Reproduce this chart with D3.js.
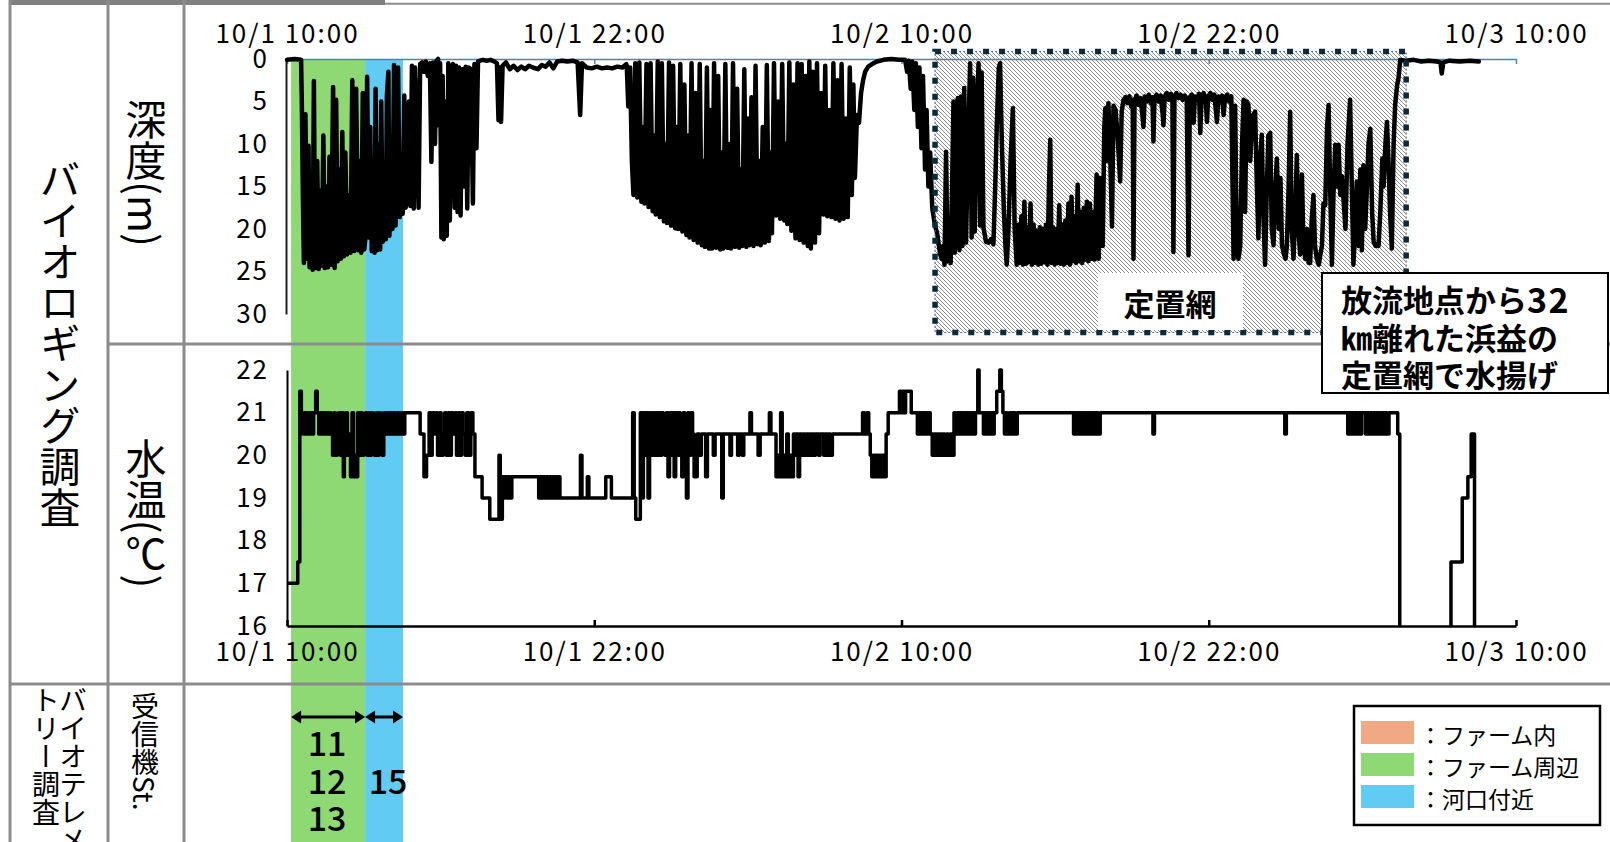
<!DOCTYPE html>
<html>
<head>
<meta charset="utf-8">
<script src="https://cdn.jsdelivr.net/npm/d3@7"></script>
<style>
  html, body { margin: 0; padding: 0; background: #fff; }
  svg { display: block; }
  text { font-family: "Noto Sans CJK JP", "Noto Sans", sans-serif; fill: #000; }
</style>
</head>
<body>
<svg id="chart" width="1610" height="842"></svg>
<script>
// ---- time axis (hours after 10/1 10:00) ----
const tickHours  = [0, 12, 24, 36, 48];
const tickLabels = ["10/1 10:00", "10/1 22:00", "10/2 10:00", "10/2 22:00", "10/3 10:00"];
const depthTicks = [0, 5, 10, 15, 20, 25, 30];
const tempTicks  = [16, 17, 18, 19, 20, 21, 22];

// ---- receiver zones ----
const zoneNames  = ["ファーム内", "ファーム周辺", "河口付近"];
const zoneColors = ["#F1A983", "#8ED973", "#61CBF3"];
const zoneStart  = [0.16, 3.05];
const zoneEnd    = [3.05, 4.53];
const zoneIndex  = [1, 2];
const zoneStations = [["11", "12", "13"], ["15"]];

// ---- set-net period ----
const netStart = 25.31;
const netEnd   = 43.71;
const netLabel = "定置網";
const noteLines = [["放流地点から", "32"], ["㎞離れた浜益の", ""], ["定置網で水揚げ", ""]];

// ---- depth record [hour, metres] ----
const depthFarm = [[0.00,0.1],[0.30,0.0],[0.55,0.1],[0.58,5.4],[0.62,16.0],[0.66,24.0],[0.72,6.5],[0.78,23.5],[0.84,10.2],[0.88,24.5],[0.95,14.0],[1.00,24.8],[1.05,2.6],[1.10,24.6],[1.18,12.0],[1.24,24.7],[1.30,15.5],[1.36,24.3],[1.42,9.0],[1.47,24.6],[1.53,15.0],[1.60,24.5],[1.66,11.5],[1.72,24.2],[1.80,3.3],[1.86,24.6],[1.92,4.8],[1.98,23.8],[2.05,13.0],[2.10,23.5],[2.16,8.6],[2.22,23.2],[2.28,11.0],[2.35,23.0],[2.42,16.0],[2.48,22.8],[2.55,2.5],[2.62,22.6],[2.70,3.5],[2.78,22.5],[2.84,12.0],[2.90,22.8],[2.96,4.0],[3.02,22.4]];
const depthEstuary = [[3.08,20.5],[3.13,2.1],[3.19,21.0],[3.25,8.0],[3.31,22.6],[3.37,12.0],[3.42,22.8],[3.46,3.5],[3.52,22.5],[3.58,10.0],[3.64,22.4],[3.68,5.0],[3.74,21.5],[3.80,14.0],[3.86,21.2],[3.90,4.4],[3.96,1.5],[4.00,20.8],[4.06,9.0],[4.12,20.0],[4.18,0.7],[4.24,19.6],[4.29,6.0],[4.34,1.0],[4.40,18.6],[4.46,12.0],[4.52,18.2],[4.58,4.3],[4.63,17.5]];
const depthOffshore1 = [[4.70,16.5],[4.76,5.0],[4.82,17.3],[4.88,0.8],[4.95,17.6],[5.00,1.0],[5.08,10.0],[5.14,17.5],[5.20,0.6],[5.28,0.4],[5.35,1.5],[5.42,0.3],[5.50,2.0],[5.58,0.5],[5.64,12.1],[5.70,0.4],[5.78,10.0],[5.84,0.2],[5.90,0.0],[5.94,7.8],[5.98,0.5],[6.03,21.0],[6.08,2.0],[6.12,21.2],[6.18,5.0],[6.24,20.8],[6.30,0.5],[6.36,19.0],[6.42,1.0],[6.48,0.6],[6.55,17.5],[6.60,0.8],[6.66,18.0],[6.72,1.0],[6.78,18.4],[6.85,1.2],[6.92,15.0],[6.98,0.9],[7.04,17.6],[7.10,1.0],[7.18,1.2],[7.26,17.0],[7.32,0.6],[7.40,10.5],[7.46,0.3],[7.54,0.2]];
const depthSurface1 = [[7.65,0.1],[7.80,0.2],[7.95,0.1],[8.10,0.3],[8.20,0.5],[8.26,7.2],[8.30,1.0],[8.36,7.4],[8.42,0.8],[8.55,0.4],[8.70,1.2],[8.85,0.8],[9.00,1.3],[9.15,0.9],[9.30,1.2],[9.45,0.8],[9.60,1.0],[9.80,1.2],[9.95,0.7],[10.10,0.9],[10.25,0.4],[10.40,1.1],[10.55,0.3],[10.75,0.2],[10.95,0.3],[11.15,0.2],[11.35,0.4],[11.45,6.6],[11.52,0.5],[11.70,1.0],[11.90,1.1],[12.10,0.9],[12.30,1.1],[12.50,1.0],[12.70,1.1],[12.90,0.9],[13.10,1.0],[13.25,0.6]];
const depthNight = [[13.27,0.8],[13.33,5.6],[13.40,1.0],[13.47,12.0],[13.53,16.0],[13.60,0.5],[13.68,16.3],[13.76,0.4],[13.84,16.8],[13.90,8.0],[13.96,17.0],[14.04,0.6],[14.12,17.4],[14.20,0.5],[14.28,17.9],[14.34,9.0],[14.40,18.3],[14.48,0.3],[14.56,18.6],[14.64,0.5],[14.72,19.1],[14.78,10.0],[14.84,19.3],[14.92,0.4],[15.00,19.6],[15.08,0.8],[15.16,19.9],[15.22,8.0],[15.28,20.0],[15.36,0.6],[15.44,20.3],[15.52,3.0],[15.60,20.7],[15.66,9.0],[15.72,21.0],[15.80,0.5],[15.88,21.3],[15.96,4.0],[16.04,21.6],[16.12,0.6],[16.20,21.9],[16.26,12.0],[16.32,22.1],[16.40,1.0],[16.48,22.3],[16.54,6.0],[16.60,22.3],[16.68,0.5],[16.76,22.2],[16.84,2.0],[16.92,22.4],[16.98,11.0],[17.04,22.3],[17.12,0.6],[17.20,22.2],[17.28,10.0],[17.34,22.3],[17.42,0.5],[17.50,22.1],[17.58,3.5],[17.66,22.2],[17.72,13.0],[17.78,22.0],[17.86,1.2],[17.94,22.1],[18.00,7.0],[18.06,21.9],[18.14,4.5],[18.22,22.0],[18.30,0.8],[18.38,21.8],[18.44,12.0],[18.50,21.9],[18.58,8.0],[18.66,21.6],[18.74,0.7],[18.82,21.4],[18.88,11.0],[18.94,20.5],[19.02,0.5],[19.10,18.4],[19.18,5.0],[19.26,18.8],[19.34,0.6],[19.42,19.0],[19.48,10.0],[19.54,19.4],[19.62,0.4],[19.70,20.2],[19.78,3.0],[19.86,21.1],[19.94,0.5],[20.02,21.3],[20.10,0.6],[20.18,21.6],[20.26,2.0],[20.34,22.0],[20.40,0.3],[20.46,22.3],[20.54,1.5],[20.62,21.6],[20.70,0.5],[20.78,20.5],[20.86,4.0],[20.95,18.3],[21.02,0.8],[21.10,18.5],[21.18,6.0],[21.26,18.6],[21.34,0.5],[21.42,18.8],[21.50,2.5],[21.58,19.0],[21.66,0.6],[21.74,18.8],[21.82,7.0],[21.90,18.6],[21.98,1.0],[22.06,16.0],[22.12,3.0],[22.18,14.0],[22.26,6.6],[22.34,7.5],[22.42,4.0],[22.50,2.5],[22.58,1.5]];
const depthSurface2 = [[22.70,0.9],[22.85,0.6],[23.04,0.3],[23.30,0.1],[23.60,0.0],[23.90,0.1],[24.14,0.1],[24.22,1.5],[24.28,0.2],[24.36,3.5],[24.42,0.3],[24.50,6.0],[24.56,0.5],[24.64,8.0],[24.70,1.0],[24.78,10.5],[24.84,2.0],[24.92,13.0],[24.98,6.0],[25.05,15.0],[25.12,11.0],[25.20,17.5],[25.30,19.5],[25.39,20.5],[25.51,23.0]];
const depthSetNet = [[25.57,23.5],[25.62,22.0],[25.68,24.2],[25.74,10.9],[25.80,23.8],[25.86,22.5],[25.92,24.0],[25.98,14.0],[26.03,5.0],[26.08,22.8],[26.14,6.0],[26.20,4.6],[26.26,22.5],[26.32,4.4],[26.38,22.0],[26.45,3.4],[26.52,21.6],[26.60,10.0],[26.68,0.5],[26.74,21.0],[26.80,2.2],[26.86,20.3],[26.92,8.0],[27.01,0.5],[27.07,19.6],[27.13,1.6],[27.20,19.8],[27.30,21.5],[27.40,21.6],[27.50,21.2],[27.59,21.8],[27.66,15.0],[27.72,8.0],[27.80,1.0],[27.85,0.5],[27.92,10.0],[28.00,18.0],[28.06,22.0],[28.11,24.2],[28.18,20.0],[28.26,12.0],[28.35,5.8],[28.42,20.0],[28.50,24.2],
  [28.56,19.5],[28.62,24.0],[28.68,18.5],[28.74,24.2],[28.80,16.8],[28.86,24.1],[28.92,19.8],[28.98,23.9],[29.04,17.0],[29.10,24.2],[29.16,19.5],[29.22,24.0],[29.28,20.2],[29.34,24.2],[29.40,19.8],[29.46,24.1],[29.52,20.0],[29.58,23.9],[29.64,19.5],[29.70,24.2],[29.76,15.0],[29.81,9.5],[29.86,24.0],[29.92,19.8],[29.98,24.2],[30.04,20.0],[30.10,24.0],[30.16,17.2],[30.22,24.1],[30.28,19.5],[30.34,24.2],[30.40,19.0],[30.46,24.0],[30.52,17.0],[30.58,24.2],[30.64,16.2],[30.70,23.8],[30.76,18.5],[30.82,24.0],[30.88,14.8],[30.94,23.8],[31.00,18.0],[31.06,24.0],[31.12,17.5],[31.18,23.6],[31.24,16.8],[31.30,23.8],[31.36,17.0],[31.42,23.5],[31.48,18.0],[31.54,23.6],[31.62,13.6],[31.70,23.5],[31.78,14.0],[31.86,22.0],
  [31.92,8.0],[31.96,5.8],[32.02,12.0],[32.08,5.2],[32.14,10.0],[32.22,19.7],[32.28,5.5],[32.36,6.0],[32.44,9.0],[32.54,14.4],[32.60,6.2],[32.67,4.8],
  [32.75,4.5],[32.82,5.2],[32.90,4.4],[32.97,5.6],[33.03,4.8],[33.06,23.5],[33.10,5.0],[33.18,4.3],[33.26,5.4],[33.34,4.6],[33.42,7.0],[33.45,8.0],[33.50,4.4],[33.58,5.0],[33.66,4.2],[33.74,5.2],[33.80,4.5],[33.84,9.7],[33.88,4.6],[33.96,4.2],[34.04,5.0],[34.12,4.3],[34.20,6.5],[34.23,7.8],[34.28,4.4],[34.36,4.0],[34.44,4.8],[34.52,4.1],[34.58,4.6],[34.62,22.7],[34.66,4.5],[34.74,4.0],[34.82,4.6],[34.90,4.2],[34.98,4.8],[35.06,4.3],[35.14,4.7],[35.21,23.1],[35.26,4.5],[35.34,4.2],[35.41,7.5],[35.46,4.4],[35.54,4.8],[35.62,4.1],[35.67,8.7],[35.72,4.5],[35.80,4.0],[35.88,4.7],[35.93,7.4],[35.98,4.4],[36.06,4.0],[36.14,4.8],[36.22,4.2],[36.32,7.4],[36.38,4.4],[36.46,4.9],[36.52,4.3],[36.58,6.6],[36.64,4.5],[36.72,4.2],[36.80,5.0],[36.88,4.4],[36.97,23.5],[37.03,5.5],[37.10,22.7],
  [37.16,23.5],[37.23,22.0],[37.30,10.0],[37.36,4.8],[37.42,18.0],[37.48,5.0],[37.55,5.4],[37.62,12.0],[37.68,8.2],[37.74,6.5],[37.81,6.2],[37.88,15.0],[37.94,21.1],[38.00,12.0],[38.07,8.9],[38.13,18.0],[38.20,24.2],[38.27,15.0],[38.33,9.0],[38.40,8.7],[38.46,20.0],[38.53,21.9],[38.60,15.0],[38.66,11.7],[38.74,20.0],[38.80,14.0],[38.86,21.9],[38.94,23.0],[39.00,23.5],[39.05,22.0],[39.12,15.0],[39.18,6.2],[39.24,20.0],[39.31,23.5],[39.38,18.0],[39.44,11.3],[39.50,20.0],[39.57,23.0],[39.64,13.6],[39.70,22.0],[39.77,23.5],[39.84,20.0],[39.90,24.0],
  [39.96,24.0],[40.02,19.0],[40.09,16.0],[40.15,22.0],[40.22,23.5],[40.30,24.2],[40.36,23.0],[40.42,22.0],[40.48,17.0],[40.55,17.2],[40.62,8.0],[40.68,5.4],[40.74,15.0],[40.81,24.2],[40.87,16.0],[40.94,10.1],[41.00,15.0],[41.07,10.1],[41.14,16.0],[41.20,13.8],[41.26,16.4],[41.34,20.0],[41.42,10.0],[41.52,4.8],[41.58,14.0],[41.65,24.2],[41.72,20.0],[41.78,14.4],[41.85,22.0],[41.92,13.0],[41.98,22.5],[42.04,12.5],[42.11,20.0],[42.18,15.0],[42.24,10.0],[42.31,8.2],[42.38,18.0],[42.44,21.5],[42.52,22.0],[42.58,21.8],[42.63,22.0],[42.70,18.0],[42.78,11.7],[42.83,15.0],[42.90,10.0],[42.96,7.4],[43.02,12.0],[43.08,18.0],[43.15,22.3],[43.22,10.0],[43.28,5.4],[43.36,3.0],[43.41,2.3],[43.48,0.1]];
const depthLanded = [[43.70,0.2],[44.00,0.1],[44.30,0.3],[44.60,0.2],[44.90,0.3],[45.05,0.4],[45.10,1.7],[45.16,0.4],[45.40,0.2],[45.80,0.3],[46.20,0.2],[46.55,0.3]];

// ---- water temperature record [hour, °C] (logged in 0.5 °C steps) ----
const tempFarm = [[0.00,17.0],[0.42,17.5],[0.50,21.5],[0.56,21.0],[0.62,20.5],[0.68,21.0],[0.74,20.5],[0.80,21.0],[0.86,20.5],[0.92,21.0],[0.98,20.5],[1.04,21.0],[1.12,21.5],[1.18,21.0],[1.24,20.5],[1.30,21.0],[1.36,20.5],[1.42,21.0],[1.48,20.5],[1.54,21.0],[1.60,20.5],[1.66,21.0],[1.72,20.5],[1.78,20.0],[1.84,21.0],[1.90,20.0],[1.96,20.5],[2.02,21.0],[2.08,20.0],[2.14,21.0],[2.20,19.5],[2.24,20.0],[2.30,21.0],[2.36,20.0],[2.42,20.5],[2.48,19.5],[2.54,21.0],[2.60,19.5],[2.66,20.0],[2.72,19.5],[2.76,21.0],[2.82,20.0],[2.88,21.0],[2.94,20.0],[3.00,20.5]];
const tempEstuary = [[3.06,21.0],[3.12,20.0],[3.18,21.0],[3.24,20.0],[3.30,21.0],[3.36,20.5],[3.42,20.0],[3.48,21.0],[3.54,20.0],[3.60,21.0],[3.66,20.5],[3.72,20.0],[3.78,21.0],[3.84,20.5],[3.92,21.0],[3.98,20.5],[4.04,21.0],[4.10,20.5],[4.16,21.0],[4.24,20.5],[4.30,21.0],[4.38,20.5],[4.46,21.0],[4.54,20.5],[4.60,21.0]];
const tempOffshore = [[5.20,20.5],[5.35,19.5],[5.45,20.0],[5.55,21.0],[5.61,20.0],[5.67,21.0],[5.75,20.5],[5.82,21.0],[5.88,20.0],[5.96,21.0],[6.02,20.0],[6.10,20.5],[6.16,21.0],[6.22,20.0],[6.30,21.0],[6.36,20.0],[6.42,21.0],[6.48,20.5],[6.56,21.0],[6.62,20.0],[6.70,21.0],[6.76,20.0],[6.82,21.0],[6.88,20.5],[6.96,20.0],[7.02,21.0],[7.10,20.0],[7.18,21.0],[7.26,20.5],[7.34,19.5],[7.62,19.0],[7.92,18.5],[8.28,20.0],[8.33,18.5],[8.41,19.5],[8.47,19.0],[8.53,19.5],[8.59,19.0],[8.65,19.5],[8.71,19.0],[8.78,19.5],[9.83,19.0],[9.89,19.5],[9.95,19.0],[10.01,19.5],[10.07,19.0],[10.13,19.5],[10.19,19.0],[10.25,19.5],[10.31,19.0],[10.37,19.5],[10.43,19.0],[10.49,19.5],[10.55,19.0],[10.61,19.5],[10.66,19.0],[11.46,20.0],[11.52,19.0],[11.73,19.5],[11.79,19.0],[12.45,19.5],[12.67,19.0],
  [13.50,21.0],[13.56,19.0],[13.62,18.5],[13.80,21.0],[13.86,19.0],[13.92,21.0],[13.98,20.0],[14.04,21.0],[14.10,19.0],[14.16,21.0],[14.22,20.0],[14.28,21.0],[14.34,20.0],[14.40,21.0],[14.46,20.0],[14.52,21.0],[14.58,20.0],[14.64,21.0],[14.70,20.5],[14.76,20.0],[14.82,21.0],[14.88,19.5],[14.94,21.0],[15.00,20.0],[15.06,21.0],[15.12,19.5],[15.18,21.0],[15.24,20.0],[15.30,21.0],[15.36,20.0],[15.42,19.5],[15.48,21.0],[15.54,20.5],[15.60,19.0],[15.66,21.0],[15.72,20.0],[15.78,21.0],[15.84,20.5],[15.90,19.5],[16.02,20.5],[16.10,20.0],[16.18,20.5],[16.35,19.5],[16.42,20.5],[16.65,20.0],[16.72,20.5],[16.98,19.0],[17.04,20.5],[17.30,20.0],[17.36,20.5],[17.60,20.0],[17.66,20.5],[17.78,20.0],[17.84,20.5],[18.08,21.0],[18.14,20.5],[18.40,20.0],[18.48,20.5],[18.84,21.0],[18.90,20.5],[19.10,19.5],[19.16,20.0],[19.22,19.5],[19.28,21.0],[19.34,19.5],[19.40,20.0],[19.46,19.5],[19.52,20.5],[19.58,19.5],[19.64,20.0],[19.70,19.5],[19.78,20.5],[19.84,20.0],[19.90,20.5],[19.96,19.5],[20.02,20.5],[20.10,20.0],[20.16,20.5],[20.22,20.0],[20.28,20.5],[20.34,20.0],[20.40,20.5],[20.46,20.0],[20.52,20.5],[20.58,20.0],[20.64,20.5],[20.76,20.0],[20.82,20.5],[20.96,20.0],[21.02,20.5],[21.10,20.0],[21.16,20.5],[21.22,20.0],[21.30,20.5],
  [22.48,21.0],[22.56,20.5],[22.64,21.0],[22.72,20.5],[22.78,20.0],[22.84,19.5],[22.90,20.0],[22.96,19.5],[23.02,20.0],[23.08,19.5],[23.14,20.0],[23.20,19.5],[23.26,20.0],[23.32,19.5],[23.40,20.5],[23.48,21.0],[23.92,21.5],[23.98,21.0],[24.04,21.5],[24.10,21.0],[24.16,21.5],[24.38,21.0],[24.62,20.5],[24.68,21.0],[24.74,20.5],[24.80,21.0],[24.86,20.5],[24.92,21.0],[24.98,20.5],[25.04,21.0],[25.12,20.5]];
const tempSetNet = [[25.20,20.0],[25.26,20.5],[25.32,20.0],[25.38,20.5],[25.44,20.0],[25.50,20.5],[25.56,20.0],[25.62,20.5],[25.68,20.0],[25.76,20.5],[25.82,20.0],[25.90,20.5],[25.98,20.0],[26.05,21.0],[26.11,20.5],[26.17,21.0],[26.23,20.5],[26.29,21.0],[26.35,20.5],[26.41,21.0],[26.47,20.5],[26.53,21.0],[26.59,20.5],[26.65,21.0],[26.71,20.5],[26.77,21.0],[26.83,20.5],[26.89,21.0],[26.98,22.0],[27.03,21.0],[27.20,20.5],[27.26,21.0],[27.32,20.5],[27.38,21.0],[27.44,20.5],[27.50,21.0],[27.56,20.5],[27.62,21.0],[27.72,21.5],[27.84,22.0],[27.90,21.5],[27.96,21.0],[28.02,20.5],[28.08,21.0],[28.14,20.5],[28.22,21.0],[28.30,20.5],[28.36,21.0],[28.44,20.5],[28.52,21.0],
  [30.72,20.5],[30.78,21.0],[30.84,20.5],[30.90,21.0],[30.96,20.5],[31.02,21.0],[31.08,20.5],[31.14,21.0],[31.20,20.5],[31.26,21.0],[31.32,20.5],[31.38,21.0],[31.44,20.5],[31.50,21.0],[31.56,20.5],[31.62,21.0],[31.68,20.5],[31.76,21.0],[33.82,20.5],[33.88,21.0],[38.97,20.5],[39.03,21.0],
  [41.43,20.5],[41.49,21.0],[41.55,20.5],[41.61,21.0],[41.67,20.5],[41.73,21.0],[41.79,20.5],[41.85,21.0],[41.91,20.5],[41.97,21.0],[42.12,20.5],[42.18,21.0],[42.24,20.5],[42.30,21.0],[42.36,20.5],[42.42,21.0],[42.48,20.5],[42.54,21.0],[42.60,20.5],[42.66,21.0],[42.72,20.5],[42.78,21.0],[42.84,20.5],[42.90,21.0],[42.96,20.5],[43.04,21.0],[43.38,20.5]];
const tempLanded = [[43.46,12.0],[45.46,17.5],[45.90,19.0],[46.12,19.5],[46.25,20.5],[46.38,12.0],[46.60,12.0]];

// ---------------------------------------------------------------
const depthSeries = [].concat(depthFarm, depthEstuary, depthOffshore1, depthSurface1, depthNight, depthSurface2, depthSetNet, depthLanded);
const tempSeries  = [].concat(tempFarm, tempEstuary, tempOffshore, tempSetNet, tempLanded);

const W = 1610, H = 842;
const svg = d3.select("#chart");
const GRID = "#8c8c8c";

const x      = d3.scaleLinear().domain([0, 48]).range([287, 1516]);
const yDepth = d3.scaleLinear().domain([0, 30]).range([59, 314]);
const yTemp  = d3.scaleLinear().domain([16, 22]).range([626, 370]);

const defs = svg.append("defs");
const hatch = defs.append("pattern").attr("id", "hatch")
  .attr("patternUnits", "userSpaceOnUse").attr("width", 4).attr("height", 4);
hatch.append("rect").attr("width", 4).attr("height", 4).attr("fill", "#fff");
hatch.append("path").attr("d", "M-1,-1L5,5M-1,3L1,5M3,-1L5,1")
  .attr("stroke", "#8f8f8f").attr("stroke-width", 1);
defs.append("clipPath").attr("id", "tempClip").append("rect")
  .attr("x", 280).attr("y", 360).attr("width", 1245).attr("height", 266);

svg.append("rect").attr("width", W).attr("height", H).attr("fill", "#fff");

// zone bands through all rows
svg.append("g").selectAll("rect").data(zoneStart).join("rect")
  .attr("x", (d) => x(d))
  .attr("width", (d, i) => x(zoneEnd[i]) - x(d))
  .attr("y", yDepth(0)).attr("height", H - yDepth(0))
  .attr("fill", (d, i) => zoneColors[zoneIndex[i]]);

// set-net hatched area
const netTop = 51.5, netBottom = 332.5;
svg.append("rect").attr("x", x(netStart)).attr("y", netTop)
  .attr("width", x(netEnd) - x(netStart)).attr("height", netBottom - netTop)
  .attr("fill", "url(#hatch)");

// table rules
const grid = svg.append("g").attr("stroke", GRID).attr("fill", "none");
grid.append("rect").attr("x", 10).attr("y", 0).attr("width", 375).attr("height", 5).attr("fill", "#808080").attr("stroke", "none");
grid.append("line").attr("x1", 385).attr("x2", W).attr("y1", 3.7).attr("y2", 3.7).attr("stroke-width", 2);
[10, 108, 184].forEach((gx) => grid.append("line").attr("x1", gx).attr("x2", gx).attr("y1", 0).attr("y2", H).attr("stroke-width", 3));
grid.append("line").attr("x1", 108).attr("x2", W).attr("y1", 344).attr("y2", 344).attr("stroke-width", 3);
grid.append("line").attr("x1", 10).attr("x2", W).attr("y1", 684).attr("y2", 684).attr("stroke-width", 3);

// ---- axes ----
const fmtTick = (d) => tickLabels[tickHours.indexOf(d)];
function styleTicks(g, color, width) {
  g.select(".domain").attr("stroke", color).attr("stroke-width", width);
  g.selectAll(".tick line").attr("stroke", color).attr("stroke-width", width);
  g.selectAll(".tick text").attr("font-size", 26).attr("letter-spacing", 2)
    .attr("font-family", '"Noto Sans CJK JP", sans-serif').attr("fill", "#111");
}
const depthX = svg.append("g").attr("transform", `translate(0,${yDepth(0)})`)
  .call(d3.axisTop(x).tickValues(tickHours).tickFormat(fmtTick).tickSizeInner(-5).tickSizeOuter(0).tickPadding(16));
styleTicks(depthX, "#4a86b4", 1.5);

const depthY = svg.append("g").attr("transform", "translate(286,0)")
  .call(d3.axisLeft(yDepth).tickValues(depthTicks).tickFormat(d3.format("d")).tickSize(0).tickPadding(17));
styleTicks(depthY, "#222", 2);

const tempY = svg.append("g").attr("transform", "translate(287,0)")
  .call(d3.axisLeft(yTemp).tickValues(tempTicks).tickFormat(d3.format("d")).tickSize(0).tickPadding(18));
styleTicks(tempY, "#000", 2);

const tempX = svg.append("g").attr("transform", `translate(0,${yTemp(16)})`)
  .call(d3.axisBottom(x).tickValues(tickHours).tickFormat(fmtTick).tickSizeInner(-6).tickSizeOuter(0).tickPadding(17));
styleTicks(tempX, "#000", 2.5);

// ---- series ----
svg.append("path").datum(depthSeries)
  .attr("d", d3.line().x((d) => x(d[0])).y((d) => yDepth(d[1])))
  .attr("fill", "none").attr("stroke", "#000").attr("stroke-width", 4.5)
  .attr("stroke-linejoin", "round").attr("stroke-linecap", "round");

svg.append("path").datum(tempSeries).attr("clip-path", "url(#tempClip)")
  .attr("d", d3.line().curve(d3.curveStepAfter).x((d) => x(d[0])).y((d) => yTemp(d[1])))
  .attr("fill", "none").attr("stroke", "#000").attr("stroke-width", 3.5)
  .attr("stroke-linejoin", "round");

// set-net frame
const frame = svg.append("rect").attr("x", x(netStart)).attr("y", netTop)
  .attr("width", x(netEnd) - x(netStart)).attr("height", netBottom - netTop).attr("fill", "none");
frame.clone().attr("stroke", "#5d7282").attr("stroke-width", 1.2).attr("stroke-dasharray", "2 2");
frame.attr("stroke", "#0e2a3a").attr("stroke-width", 5.5).attr("stroke-dasharray", "6 10").raise();

svg.append("rect").attr("x", 1098).attr("y", 273).attr("width", 145).attr("height", 57).attr("fill", "#fff");
svg.append("text").attr("x", 1170).attr("y", 302).attr("text-anchor", "middle")
  .attr("dominant-baseline", "central").attr("font-size", 31).attr("font-weight", 700).text(netLabel);

// landing note
svg.append("rect").attr("x", 1322).attr("y", 273).attr("width", 286).attr("height", 120)
  .attr("fill", "#fff").attr("stroke", "#000").attr("stroke-width", 2);
const note = svg.append("g").selectAll("text").data(noteLines).join("text")
  .attr("x", 1341).attr("y", (d, i) => 298 + i * 37.5)
  .attr("dominant-baseline", "central").attr("font-size", 31).attr("font-weight", 700);
note.append("tspan").text((d) => d[0]);
note.append("tspan").attr("font-size", 34).attr("letter-spacing", 1.5).text((d) => d[1]);

// ---- row headings (vertical) ----
function vtext(cx, y, str, size, anchor) {
  return svg.append("text").attr("x", cx).attr("y", y)
    .style("writing-mode", "vertical-rl").attr("text-anchor", anchor)
    .attr("font-size", size).text(str);
}
vtext(60, 343, "バイオロギング調査", 41, "middle");
vtext(146, 173, "深度(m)", 41, "middle");
vtext(146, 513, "水温(℃)", 41, "middle");
vtext(73, 686, "バイオテレメ", 28, "start");
vtext(46, 686, "トリー調査", 28, "start");
vtext(145, 692, "受信機St.", 28, "start");

// ---- receiver stations ----
const arrowY = 717;
zoneStart.forEach((s, i) => {
  const x0 = x(s), x1 = x(zoneEnd[i]), hl = 10, hw = 6.5;
  const g = svg.append("g");
  g.append("line").attr("x1", x0 + hl - 1).attr("x2", x1 - hl + 1).attr("y1", arrowY).attr("y2", arrowY)
    .attr("stroke", "#000").attr("stroke-width", 3);
  g.append("path").attr("d", `M${x0},${arrowY}L${x0 + hl},${arrowY - hw}L${x0 + hl},${arrowY + hw}Z`).attr("fill", "#000");
  g.append("path").attr("d", `M${x1},${arrowY}L${x1 - hl},${arrowY - hw}L${x1 - hl},${arrowY + hw}Z`).attr("fill", "#000");
  const st = zoneStations[i];
  const cx = (x0 + x1) / 2 + (i === 0 ? -1 : 4);
  const startY = 779 - (st.length - 1) / 2 * 37.5;
  g.selectAll("text").data(st).join("text")
    .attr("x", cx).attr("y", (d, k) => startY + k * 37.5)
    .attr("text-anchor", "middle").attr("dominant-baseline", "central")
    .attr("font-size", 34).attr("font-weight", 500).text((d) => d);
});

// ---- legend ----
const lg = svg.append("g");
lg.append("rect").attr("x", 1354).attr("y", 706).attr("width", 246).attr("height", 119)
  .attr("fill", "#fff").attr("stroke", "#000").attr("stroke-width", 2.5);
zoneNames.forEach((name, i) => {
  const cy = 732.5 + i * 32;
  lg.append("rect").attr("x", 1361).attr("y", cy - 11.5).attr("width", 53).attr("height", 23).attr("fill", zoneColors[i]);
  lg.append("text").attr("x", 1419).attr("y", cy + 1).attr("dominant-baseline", "central")
    .attr("font-size", 23).text("：" + name);
});
</script>
</body>
</html>
